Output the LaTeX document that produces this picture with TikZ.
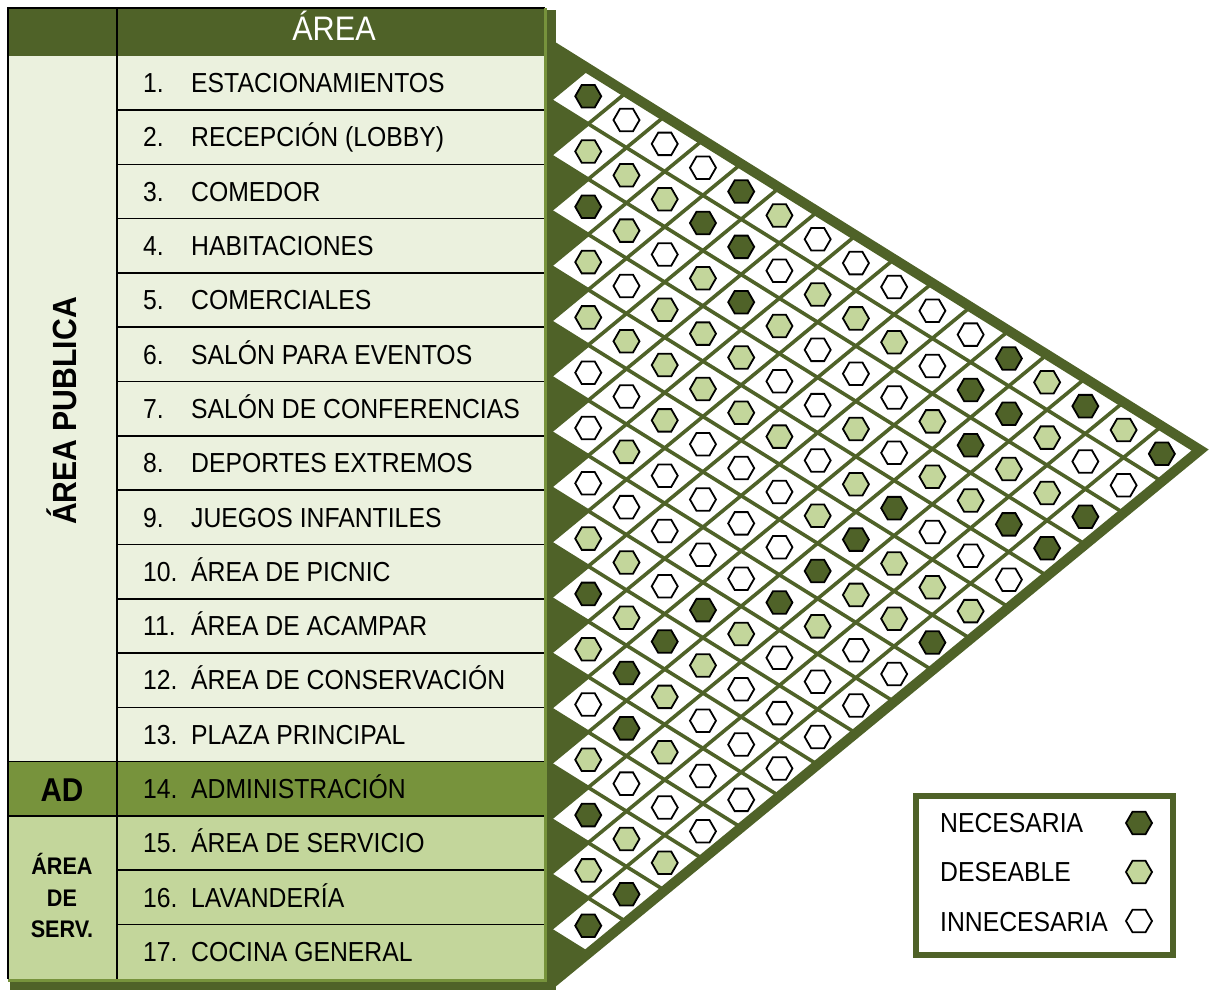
\documentclass[tikz,border=0pt]{standalone}
\usepackage{fontspec}
\setmainfont{Liberation Sans}
\newfontfamily\tf[FakeStretch=0.9]{Liberation Sans}
\usetikzlibrary{shapes.geometric}
\definecolor{dkg}{HTML}{4F6228}
\definecolor{mdg}{HTML}{77933C}
\definecolor{ltg}{HTML}{C3D69B}
\definecolor{pal}{HTML}{EBF1DE}
\begin{document}
\begin{tikzpicture}[x=1pt,y=-1pt,
  hexbase/.style={regular polygon, regular polygon sides=6, minimum size=26pt, inner sep=0pt, draw=black, line width=1.8pt},
  hexN/.style={hexbase, fill=dkg},
  hexD/.style={hexbase, fill=ltg},
  hexI/.style={hexbase, fill=white},
  rowtxt/.style={anchor=base west, inner sep=0pt, font=\tf\fontsize{27.5}{33}\selectfont},
  gridline/.style={draw=dkg, line width=3.6pt},
  tabline/.style={draw=black, line width=1.6pt},
]
\useasboundingbox (0,0) rectangle (1209,990);
\def\xL{550}\def\yO{44.7}\def\hh{55.3}\def\mA{0.6235}\def\mB{0.823}\def\ss{38.24}
% table shadow
\fill[dkg] (10,10) rectangle (556,990);
% table fills
\fill[dkg] (8,8) rectangle (545,55.7);
\fill[pal] (8,55.7) rectangle (545,761.6);
\fill[mdg] (8,761.6) rectangle (545,815.9);
\fill[ltg] (8,815.9) rectangle (545,978.8);
% table lines
\foreach \t in {1,...,16}{
  \draw[tabline] (117,{55.7+54.3*\t}) -- (545,{55.7+54.3*\t});
}
\draw[tabline] (8,761.6) -- (117,761.6);
\draw[tabline] (8,815.9) -- (117,815.9);
\draw[tabline] (117,8) -- (117,978.8);
\draw[tabline] (8,978.8) -- (8,8) -- (545,8);
\draw[mdg, line width=3pt] (545,8) -- (545,980) -- (8,980);
% header and group labels
\node[anchor=base, inner sep=0pt, text=white, font=\tf\fontsize{34}{40}\selectfont] (hdr) at (334,41) {ÁREA};
\node[anchor=base, rotate=90, inner sep=0pt, font=\tf\bfseries\fontsize{33.5}{40}\selectfont] (pub) at (76,411) {ÁREA PUBLICA};
\node[anchor=base, inner sep=0pt, font=\tf\bfseries\fontsize{33}{40}\selectfont] (ad) at (62,801) {AD};
\node[anchor=base, inner sep=0pt, font=\tf\bfseries\fontsize{24}{30}\selectfont] (sv1) at (62,874.5) {ÁREA};
\node[anchor=base, inner sep=0pt, font=\tf\bfseries\fontsize{24}{30}\selectfont] (sv2) at (62,906.5) {DE};
\node[anchor=base, inner sep=0pt, font=\tf\bfseries\fontsize{24}{30}\selectfont] (sv3) at (62,937.5) {SERV.};
% row texts
\foreach \nm/\lab [count=\r] in {1./ESTACIONAMIENTOS, 2./RECEPCIÓN (LOBBY), 3./COMEDOR, 4./HABITACIONES, 5./COMERCIALES, 6./SALÓN PARA EVENTOS, 7./SALÓN DE CONFERENCIAS, 8./DEPORTES EXTREMOS, 9./JUEGOS INFANTILES, 10./ÁREA DE PICNIC, 11./ÁREA DE ACAMPAR, 12./ÁREA DE CONSERVACIÓN, 13./PLAZA PRINCIPAL, 14./ADMINISTRACIÓN, 15./ÁREA DE SERVICIO, 16./LAVANDERÍA, 17./COCINA GENERAL}{
  \node[rowtxt] (n\r) at (143,{28.55+54.3*\r+9.8}) {\nm};
  \node[rowtxt] (t\r) at (191,{28.55+54.3*\r+9.8}) {\lab};
}
% matrix background
\fill[white] (\xL,\yO) -- ({\xL+17*\ss},{\yO+\mA*17*\ss}) -- (\xL,{\yO+17*\hh}) -- cycle;
\foreach \t in {0,...,17}{
  \pgfmathsetmacro\yt{\yO+\t*\hh}
  \draw[gridline] (\xL,\yt) -- ++({(17-\t)*\ss},{\mA*(17-\t)*\ss});
  \draw[gridline] (\xL,\yt) -- ++({\t*\ss},{-\mB*\t*\ss});
}
\foreach \t in {1,...,17}{
  \fill[dkg] (\xL,{\yO+(\t-1)*\hh}) -- ++({\ss},{\mA*\ss}) -- (\xL,{\yO+\t*\hh}) -- cycle;
}
\draw[dkg, line width=10pt, line join=miter] (\xL,\yO) -- ({\xL+17*\ss},{\yO+\mA*17*\ss}) -- (\xL,{\yO+17*\hh});
% relationship symbols
\foreach \i/\lst in {
  1/{N,I,I,I,N,D,I,I,I,I,I,N,D,N,D,N},
  2/{D,D,D,N,N,I,D,D,D,I,N,N,D,I,I},
  3/{N,D,I,D,N,D,I,I,I,D,N,D,D,N},
  4/{D,I,D,D,D,I,I,D,I,D,D,N,N},
  5/{D,D,D,D,D,D,I,D,N,I,I,I},
  6/{I,I,D,I,I,I,D,N,D,D,D},
  7/{I,D,I,I,I,I,N,D,D,N},
  8/{I,I,I,I,I,N,D,I,I},
  9/{D,D,I,N,D,I,I,I},
  10/{N,D,N,D,I,I,I},
  11/{D,N,D,I,I,I},
  12/{I,N,D,I,I},
  13/{D,I,I,I},
  14/{N,D,D},
  15/{D,N},
  16/{N}}{
  \foreach \c [count=\k] in \lst {
    \pgfmathtruncatemacro\j{\i+\k}
    \node[hex\c] (c-\i-\j) at ({\xL+\k*\ss},{\yO+(\i-0.5)*\hh+\mA*\k*\ss}) {};
  }
}
% legend
\draw[dkg, line width=6pt, fill=white] (916,796) rectangle (1173,955);
\node[rowtxt] (lt1) at (940,832.8) {NECESARIA};
\node[rowtxt] (lt2) at (940,881.8) {DESEABLE};
\node[rowtxt] (lt3) at (940,931.8) {INNECESARIA};
\node[hexN] (lh1) at (1139,823) {};
\node[hexD] (lh2) at (1139,872) {};
\node[hexI] (lh3) at (1139,921) {};
\end{tikzpicture}
\end{document}
